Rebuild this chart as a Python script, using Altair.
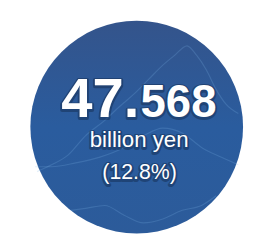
import math
import altair as alt
import pandas as pd

# ---- data ----
circle_x = [133]
circle_y = [119]
circle_r = [124]

big_text = ["47."]
small_text = ["568"]
unit_text = ["billion yen"]
pct_text = ["(12.8%)"]

# faint decorative background lines (chart pixel units)
lineA_x = [30, 45, 62, 80, 100, 115, 130, 145, 160, 172, 185, 195, 205, 215, 225, 238]
lineA_y = [165, 158, 148, 128, 112, 98, 85, 70, 55, 45, 35, 45, 60, 80, 95, 105]
lineB_x = [28, 45, 70, 95, 120, 140, 160, 180, 200, 220, 238]
lineB_y = [160, 160, 156, 150, 140, 128, 120, 125, 140, 150, 158]
lineC_x = [65, 80, 100, 120, 140, 160, 180, 200, 215]
lineC_y = [205, 203, 200, 210, 218, 214, 205, 200, 190]

W, H = 248, 244
xs = alt.Scale(domain=[0, W], range=[0, W])
ys = alt.Scale(domain=[0, H], range=[0, H])

circle_df = pd.DataFrame({"x": circle_x, "y": circle_y, "r": circle_r})
circle_df["size"] = math.pi * circle_df["r"] ** 2

grad = alt.LinearGradient(
    gradient="linear",
    stops=[
        alt.GradientStop(color="#34548b", offset=0),
        alt.GradientStop(color="#2a5c9e", offset=0.5),
        alt.GradientStop(color="#2c5b9a", offset=1),
    ],
    x1=0, x2=0, y1=0, y2=1,
)

circle = alt.Chart(circle_df).mark_point(
    shape="circle", filled=True, fill=grad, opacity=1, strokeWidth=0
).encode(
    x=alt.X("x:Q", scale=xs, axis=None),
    y=alt.Y("y:Q", scale=ys, axis=None),
    size=alt.Size("size:Q", scale=None, legend=None),
)

rows = []
for name, lx, ly in [("A", lineA_x, lineA_y), ("B", lineB_x, lineB_y), ("C", lineC_x, lineC_y)]:
    for i, (a, b) in enumerate(zip(lx, ly)):
        rows.append({"s": name, "i": i, "x": a, "y": b})
lines_df = pd.DataFrame(rows)
lines = alt.Chart(lines_df).mark_line(
    color="#7fb4e6", strokeWidth=1.2, opacity=0.22, interpolate="monotone"
).encode(
    x=alt.X("x:Q", scale=xs, axis=None),
    y=alt.Y("y:Q", scale=ys, axis=None),
    detail="s:N",
    order="i:Q",
)

text_df = pd.DataFrame({
    "t": [big_text[0], small_text[0], unit_text[0], pct_text[0]],
    "x": [55, 137, 135.5, 136],
    "y": [109, 109, 140, 173],
    "size": [58, 47, 23, 22],
    "align": ["left", "left", "center", "center"],
    "weight": ["bold", "bold", "normal", "normal"],
})


def text_layer(row, shadow):
    d = text_df[text_df["t"] == row["t"]]
    kw = dict(
        font="Liberation Sans",
        fontSize=row["size"],
        fontWeight=row["weight"],
        align=row["align"],
        baseline="alphabetic",
    )
    if shadow:
        kw.update(fill="#0a1a33", stroke="#0a1a33", strokeWidth=4, opacity=0.35,
                  strokeJoin="round", dy=1)
    else:
        kw.update(fill="white")
    return alt.Chart(d).mark_text(**kw).encode(
        x=alt.X("x:Q", scale=xs, axis=None),
        y=alt.Y("y:Q", scale=ys, axis=None),
        text="t:N",
    )


layers = [circle, lines]
for _, r in text_df.iterrows():
    layers.append(text_layer(r, True))
for _, r in text_df.iterrows():
    layers.append(text_layer(r, False))

chart = alt.layer(*layers).properties(
    width=W, height=H, padding=0, autosize="none"
).configure_view(stroke=None)

chart.save("out.html", embed_options={"renderer": "svg", "actions": False})
